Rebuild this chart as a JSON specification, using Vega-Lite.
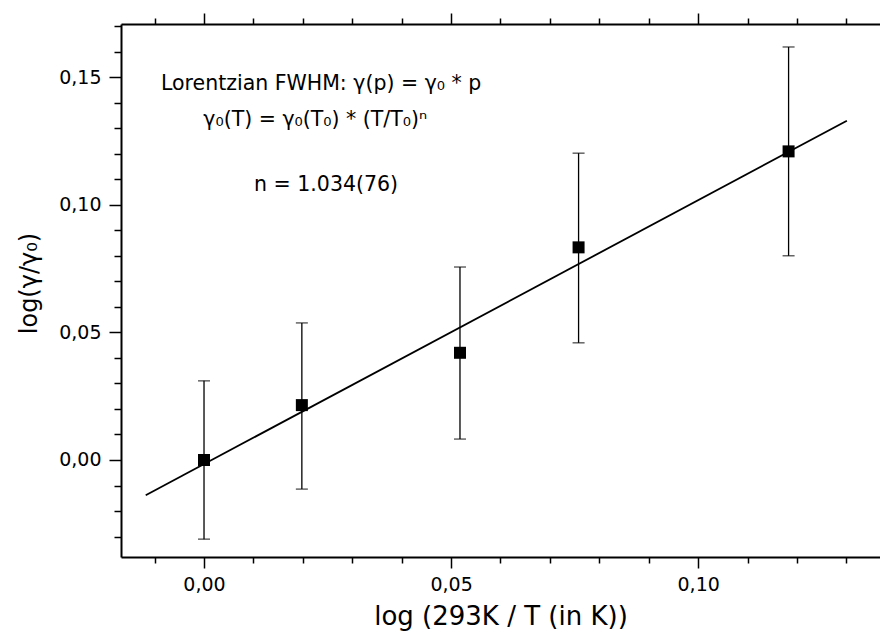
{
  "$schema": "https://vega.github.io/schema/vega-lite/v6.json",
  "autosize": {"type": "none"},
  "padding": {"left": 121, "top": 24, "right": 0, "bottom": 83},
  "width": 759,
  "height": 533,
  "background": "white",
  "config": {
    "font": "DejaVu Sans",
    "view": {"stroke": null},
    "axis": {"domainColor": "black", "tickColor": "black", "labelColor": "black", "titleColor": "black", "grid": false, "labelFont": "DejaVu Sans", "titleFont": "DejaVu Sans", "tickWidth": 1.5, "domainWidth": 2}
  },
  "datasets": {
    "pts": [
      {"x": 0.0, "y": 0.0, "lo": -0.031, "hi": 0.031},
      {"x": 0.0198, "y": 0.0215, "lo": -0.0114, "hi": 0.0537},
      {"x": 0.0518, "y": 0.042, "lo": 0.0082, "hi": 0.0756},
      {"x": 0.0758, "y": 0.0833, "lo": 0.0459, "hi": 0.1202},
      {"x": 0.1183, "y": 0.1209, "lo": 0.080, "hi": 0.1618}
    ],
    "fit": [
      {"x": -0.0118, "y": -0.0138},
      {"x": 0.1301, "y": 0.1329}
    ],
    "notes": [
      {"x": 0.0237, "y": 0.1449, "label": "Lorentzian FWHM: γ(p) = γ₀ * p"},
      {"x": 0.0225, "y": 0.1308, "label": "γ₀(T) = γ₀(T₀) * (T/T₀)ⁿ"},
      {"x": 0.0247, "y": 0.1054, "label": "n = 1.034(76)"}
    ]
  },
  "resolve": {"axis": {"x": "independent", "y": "independent"}},
  "layer": [
    {
      "data": {"name": "fit"},
      "mark": {"type": "line", "color": "black", "strokeWidth": 1.8},
      "encoding": {
        "x": {"field": "x", "type": "quantitative", "scale": {"domain": [-0.0168, 0.1368], "nice": false, "zero": false},
          "axis": {"orient": "top", "title": null, "labels": false, "values": [0, 0.05, 0.1], "tickSize": 11}},
        "y": {"field": "y", "type": "quantitative", "scale": {"domain": [-0.038, 0.1708], "nice": false, "zero": false}, "axis": null}
      }
    },
    {
      "data": {"name": "pts"},
      "mark": {"type": "rule", "color": "black", "strokeWidth": 1.3},
      "encoding": {
        "x": {"field": "x", "type": "quantitative",
          "axis": {"orient": "top", "title": null, "labels": false, "domain": false, "tickSize": 6,
            "values": [-0.01, 0.01, 0.02, 0.03, 0.04, 0.06, 0.07, 0.08, 0.09, 0.11, 0.12, 0.13]}},
        "y": {"field": "lo", "type": "quantitative",
          "axis": {"orient": "left", "title": null, "labels": false, "domain": false, "tickSize": 7,
            "values": [-0.03, -0.02, -0.01, 0.01, 0.02, 0.03, 0.04, 0.06, 0.07, 0.08, 0.09, 0.11, 0.12, 0.13, 0.14, 0.16, 0.17]}},
        "y2": {"field": "hi"}
      }
    },
    {
      "data": {"name": "pts"},
      "mark": {"type": "tick", "orient": "horizontal", "color": "black", "size": 12, "thickness": 1.3},
      "encoding": {
        "x": {"field": "x", "type": "quantitative",
          "axis": {"orient": "bottom", "title": null, "labels": false, "domain": false, "tickSize": 6,
            "values": [-0.01, 0.01, 0.02, 0.03, 0.04, 0.06, 0.07, 0.08, 0.09, 0.11, 0.12, 0.13]}},
        "y": {"field": "lo", "type": "quantitative", "axis": null}
      }
    },
    {
      "data": {"name": "pts"},
      "mark": {"type": "tick", "orient": "horizontal", "color": "black", "size": 12, "thickness": 1.3},
      "encoding": {
        "x": {"field": "x", "type": "quantitative", "axis": null},
        "y": {"field": "hi", "type": "quantitative", "axis": null}
      }
    },
    {
      "data": {"name": "pts"},
      "mark": {"type": "point", "shape": "square", "filled": true, "color": "black", "size": 144, "opacity": 1},
      "encoding": {
        "x": {"field": "x", "type": "quantitative",
          "axis": {"orient": "bottom", "title": "log (293K / T (in K))", "titleFontSize": 26, "titleFontWeight": "normal", "titlePadding": 9,
            "labelFontSize": 19, "labelPadding": 7, "labelFlush": false, "tickSize": 11,
            "values": [0, 0.05, 0.1],
            "labelExpr": "replace(format(datum.value, '.2f'), '.', ',')"}},
        "y": {"field": "y", "type": "quantitative",
          "axis": {"orient": "left", "title": "log(γ/γ₀)", "titleFontSize": 24, "titleFontWeight": "normal", "titlePadding": 17, "titleY": 259,
            "labelFontSize": 19, "labelPadding": 8, "labelFlush": false, "tickSize": 12,
            "values": [0, 0.05, 0.1, 0.15],
            "labelExpr": "replace(format(datum.value, '.2f'), '.', ',')"}}
      }
    },
    {
      "data": {"name": "notes"},
      "mark": {"type": "text", "align": "center", "baseline": "alphabetic", "fontSize": 20.5, "color": "black"},
      "encoding": {
        "x": {"field": "x", "type": "quantitative", "axis": null},
        "y": {"field": "y", "type": "quantitative", "axis": null},
        "text": {"field": "label"}
      }
    }
  ]
}
